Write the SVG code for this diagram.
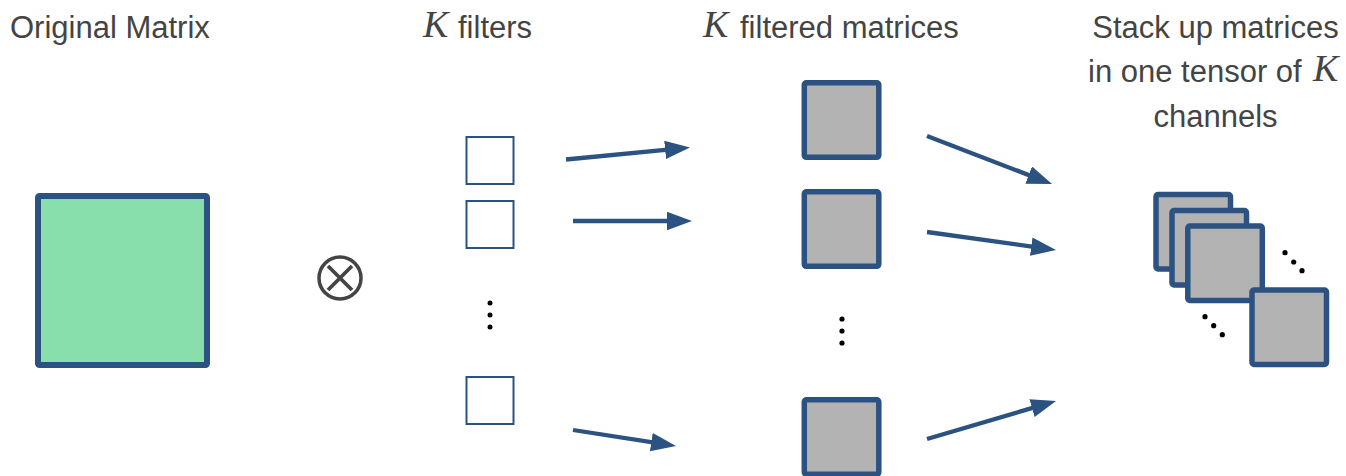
<svg xmlns="http://www.w3.org/2000/svg" width="1346" height="476" viewBox="0 0 1346 476">
  <style>
    .lbl { font-family: "Liberation Sans", Arial, sans-serif; font-size: 31px; fill: #444444; }
    .mk { font-family: "Liberation Serif", "Times New Roman", serif; font-style: italic; font-size: 38px; fill: #444444; }
    .filter { fill: #ffffff; stroke: #2c5282; stroke-width: 2; }
    .fm { fill: #b3b3b3; stroke: #2c5282; stroke-width: 5.5; }
    .conn { stroke: #2c5282; stroke-width: 4.3; fill: none; marker-end: url(#ah); }
    .dot { fill: #000000; }
  </style>
  <defs>
    <marker id="ah" markerUnits="userSpaceOnUse" markerWidth="26" markerHeight="20" refX="13" refY="9.25" orient="auto">
      <path d="M0,0 L25,9.25 L0,18.5 z" fill="#2c5282"/>
    </marker>
  </defs>
  <rect width="1346" height="476" fill="#ffffff"/>

  <g id="labels">
    <text class="lbl" x="10" y="38">Original Matrix</text>
    <text x="423" y="37"><tspan class="mk">K</tspan></text>
    <text class="lbl" x="458" y="38">filters</text>
    <text x="703" y="37"><tspan class="mk">K</tspan></text>
    <text class="lbl" x="740" y="38">filtered matrices</text>
    <text class="lbl" x="1215.5" y="38" text-anchor="middle">Stack up matrices</text>
    <text class="lbl" x="1088" y="82">in one tensor of</text>
    <text x="1313" y="81"><tspan class="mk">K</tspan></text>
    <text class="lbl" x="1215.5" y="127" text-anchor="middle">channels</text>
  </g>

  <g id="original-matrix">
    <rect x="38" y="196" width="169" height="169" rx="1.5" fill="#89dfab" stroke="#2c5282" stroke-width="6"/>
  </g>

  <g id="otimes">
    <circle cx="340" cy="278" r="21" fill="none" stroke="#444444" stroke-width="3.5"/>
    <path d="M328,266 L352,290 M352,266 L328,290" stroke="#444444" stroke-width="3.8" fill="none"/>
  </g>

  <g id="filter-1"><rect class="filter" x="466.5" y="137" width="47" height="47"/></g>
  <g id="filter-2"><rect class="filter" x="466.5" y="201" width="47" height="47"/></g>
  <g id="filter-dots">
    <circle class="dot" cx="490" cy="303" r="2.5"/>
    <circle class="dot" cx="490" cy="315" r="2.5"/>
    <circle class="dot" cx="490" cy="327" r="2.5"/>
  </g>
  <g id="filter-k"><rect class="filter" x="466.5" y="377" width="47" height="47"/></g>

  <g id="filtered-1"><rect class="fm" x="804.3" y="82.8" width="74.5" height="74.5" rx="2"/></g>
  <g id="filtered-2"><rect class="fm" x="804.3" y="191.8" width="74.5" height="74.5" rx="2"/></g>
  <g id="filtered-dots">
    <circle class="dot" cx="842" cy="319" r="2.6"/>
    <circle class="dot" cx="842" cy="331" r="2.6"/>
    <circle class="dot" cx="842" cy="343" r="2.6"/>
  </g>
  <g id="filtered-k"><rect class="fm" x="804.3" y="399.8" width="74.5" height="74.5" rx="2"/></g>

  <g id="stack">
    <rect class="fm" x="1156" y="194.5" width="74.5" height="74.5" rx="2"/>
    <rect class="fm" x="1172" y="210.5" width="74.5" height="74.5" rx="2"/>
    <rect class="fm" x="1187.8" y="226" width="74.5" height="74.5" rx="2"/>
    <rect class="fm" x="1252" y="290" width="74.5" height="74.5" rx="2"/>
    <circle class="dot" cx="1285" cy="252.7" r="2.6"/>
    <circle class="dot" cx="1293.7" cy="262" r="2.6"/>
    <circle class="dot" cx="1302" cy="270.7" r="2.6"/>
    <circle class="dot" cx="1205" cy="316.7" r="2.6"/>
    <circle class="dot" cx="1213.7" cy="325.7" r="2.6"/>
    <circle class="dot" cx="1222.3" cy="334.7" r="2.6"/>
  </g>

  <g id="connectors">
    <line class="conn" x1="566" y1="159.5" x2="678.06" y2="148.66"/>
    <line class="conn" x1="573" y1="221" x2="680" y2="221"/>
    <line class="conn" x1="573" y1="430" x2="664.15" y2="444.08"/>
    <line class="conn" x1="927" y1="136" x2="1040.8" y2="179.7"/>
    <line class="conn" x1="927" y1="232" x2="1044.1" y2="248.34"/>
    <line class="conn" x1="927" y1="439" x2="1044.49" y2="404.39"/>
  </g>
</svg>
